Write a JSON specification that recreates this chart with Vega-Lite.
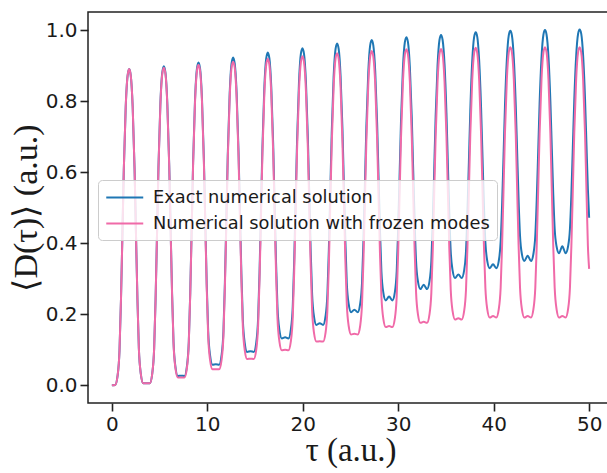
{
"$schema": "https://vega.github.io/schema/vega-lite/v6.json",
"width": 525, "height": 391,
"autosize": {"type": "none"},
"padding": {"left": 88, "top": 12, "right": 0, "bottom": 70},
"background": "white",
"config": {
  "view": {"stroke": "#222222", "strokeWidth": 1.5},
  "axis": {"grid": false, "domain": false, "tickSize": 8, "tickWidth": 1.6, "tickColor": "#222222",
    "labelFont": "DejaVu Sans", "labelFontSize": 20, "labelColor": "#1a1a1a", "labelPadding": 3,
    "titleFont": "Liberation Serif", "titleFontSize": 33, "titleFontWeight": "normal", "titleColor": "#1a1a1a"},
  "legend": {"labelFont": "DejaVu Sans", "labelFontSize": 17.8, "labelColor": "#1a1a1a", "labelLimit": 0}
},
"data": {"values": [
{"t":0,"exact":0,"frozen":0},{"t":0.35,"exact":0.001,"frozen":0.001},{"t":0.6,"exact":0.027,"frozen":0.027},{"t":0.8,"exact":0.098,"frozen":0.098},{"t":0.95,"exact":0.236,"frozen":0.236},{"t":1.1,"exact":0.419,"frozen":0.419},{"t":1.25,"exact":0.606,"frozen":0.606},{"t":1.45,"exact":0.784,"frozen":0.784},{"t":1.65,"exact":0.873,"frozen":0.873},{"t":1.815,"exact":0.891,"frozen":0.891},
{"t":1.98,"exact":0.873,"frozen":0.873},{"t":2.18,"exact":0.785,"frozen":0.785},{"t":2.38,"exact":0.608,"frozen":0.608},{"t":2.53,"exact":0.422,"frozen":0.422},{"t":2.68,"exact":0.241,"frozen":0.241},{"t":2.83,"exact":0.103,"frozen":0.103},{"t":3.03,"exact":0.033,"frozen":0.033},{"t":3.28,"exact":0.006,"frozen":0.006},
{"t":3.63,"exact":0.006,"frozen":0.006},{"t":3.98,"exact":0.006,"frozen":0.006},{"t":4.23,"exact":0.033,"frozen":0.033},{"t":4.43,"exact":0.104,"frozen":0.104},{"t":4.58,"exact":0.243,"frozen":0.242},{"t":4.73,"exact":0.426,"frozen":0.424},{"t":4.88,"exact":0.613,"frozen":0.611},{"t":5.08,"exact":0.792,"frozen":0.788},{"t":5.28,"exact":0.881,"frozen":0.877},{"t":5.445,"exact":0.899,"frozen":0.895},
{"t":5.61,"exact":0.882,"frozen":0.878},{"t":5.81,"exact":0.794,"frozen":0.790},{"t":6.01,"exact":0.620,"frozen":0.616},{"t":6.16,"exact":0.436,"frozen":0.432},{"t":6.31,"exact":0.257,"frozen":0.253},{"t":6.46,"exact":0.122,"frozen":0.118},{"t":6.66,"exact":0.052,"frozen":0.048},{"t":6.91,"exact":0.026,"frozen":0.022},
{"t":7.26,"exact":0.027,"frozen":0.022},{"t":7.61,"exact":0.026,"frozen":0.022},{"t":7.86,"exact":0.053,"frozen":0.048},{"t":8.06,"exact":0.123,"frozen":0.119},{"t":8.21,"exact":0.260,"frozen":0.255},{"t":8.36,"exact":0.441,"frozen":0.436},{"t":8.51,"exact":0.627,"frozen":0.621},{"t":8.71,"exact":0.804,"frozen":0.797},{"t":8.91,"exact":0.892,"frozen":0.885},{"t":9.075,"exact":0.910,"frozen":0.903},
{"t":9.24,"exact":0.893,"frozen":0.886},{"t":9.44,"exact":0.808,"frozen":0.800},{"t":9.64,"exact":0.637,"frozen":0.628},{"t":9.79,"exact":0.458,"frozen":0.448},{"t":9.94,"exact":0.284,"frozen":0.272},{"t":10.09,"exact":0.152,"frozen":0.139},{"t":10.29,"exact":0.084,"frozen":0.071},{"t":10.54,"exact":0.058,"frozen":0.045},
{"t":10.89,"exact":0.059,"frozen":0.045},{"t":11.24,"exact":0.058,"frozen":0.045},{"t":11.49,"exact":0.084,"frozen":0.071},{"t":11.69,"exact":0.153,"frozen":0.140},{"t":11.84,"exact":0.287,"frozen":0.275},{"t":11.99,"exact":0.465,"frozen":0.452},{"t":12.14,"exact":0.647,"frozen":0.635},{"t":12.34,"exact":0.820,"frozen":0.808},{"t":12.54,"exact":0.907,"frozen":0.895},{"t":12.705,"exact":0.924,"frozen":0.912},
{"t":12.87,"exact":0.907,"frozen":0.895},{"t":13.07,"exact":0.824,"frozen":0.811},{"t":13.27,"exact":0.658,"frozen":0.644},{"t":13.42,"exact":0.484,"frozen":0.468},{"t":13.57,"exact":0.314,"frozen":0.296},{"t":13.72,"exact":0.185,"frozen":0.166},{"t":13.92,"exact":0.119,"frozen":0.099},{"t":14.17,"exact":0.094,"frozen":0.074},
{"t":14.52,"exact":0.096,"frozen":0.075},{"t":14.87,"exact":0.094,"frozen":0.074},{"t":15.12,"exact":0.119,"frozen":0.099},{"t":15.32,"exact":0.187,"frozen":0.167},{"t":15.47,"exact":0.318,"frozen":0.298},{"t":15.62,"exact":0.491,"frozen":0.472},{"t":15.77,"exact":0.668,"frozen":0.649},{"t":15.97,"exact":0.837,"frozen":0.818},{"t":16.17,"exact":0.921,"frozen":0.903},{"t":16.335,"exact":0.938,"frozen":0.920},
{"t":16.5,"exact":0.922,"frozen":0.904},{"t":16.7,"exact":0.841,"frozen":0.821},{"t":16.9,"exact":0.680,"frozen":0.657},{"t":17.05,"exact":0.511,"frozen":0.485},{"t":17.2,"exact":0.346,"frozen":0.317},{"t":17.35,"exact":0.221,"frozen":0.189},{"t":17.55,"exact":0.156,"frozen":0.124},{"t":17.8,"exact":0.132,"frozen":0.099},
{"t":18.15,"exact":0.135,"frozen":0.100},{"t":18.5,"exact":0.132,"frozen":0.099},{"t":18.75,"exact":0.157,"frozen":0.124},{"t":18.95,"exact":0.222,"frozen":0.190},{"t":19.1,"exact":0.349,"frozen":0.318},{"t":19.25,"exact":0.516,"frozen":0.488},{"t":19.4,"exact":0.688,"frozen":0.662},{"t":19.6,"exact":0.852,"frozen":0.828},{"t":19.8,"exact":0.934,"frozen":0.910},{"t":19.965,"exact":0.950,"frozen":0.927},
{"t":20.13,"exact":0.934,"frozen":0.911},{"t":20.33,"exact":0.856,"frozen":0.831},{"t":20.53,"exact":0.700,"frozen":0.670},{"t":20.68,"exact":0.537,"frozen":0.501},{"t":20.83,"exact":0.377,"frozen":0.336},{"t":20.98,"exact":0.256,"frozen":0.211},{"t":21.18,"exact":0.193,"frozen":0.147},{"t":21.43,"exact":0.170,"frozen":0.123},
{"t":21.78,"exact":0.175,"frozen":0.124},{"t":22.13,"exact":0.170,"frozen":0.123},{"t":22.38,"exact":0.194,"frozen":0.147},{"t":22.58,"exact":0.257,"frozen":0.212},{"t":22.73,"exact":0.380,"frozen":0.338},{"t":22.88,"exact":0.543,"frozen":0.505},{"t":23.03,"exact":0.709,"frozen":0.676},{"t":23.23,"exact":0.868,"frozen":0.838},{"t":23.43,"exact":0.947,"frozen":0.920},{"t":23.595,"exact":0.963,"frozen":0.936},
{"t":23.76,"exact":0.948,"frozen":0.920},{"t":23.96,"exact":0.872,"frozen":0.841},{"t":24.16,"exact":0.721,"frozen":0.682},{"t":24.31,"exact":0.562,"frozen":0.516},{"t":24.46,"exact":0.407,"frozen":0.353},{"t":24.61,"exact":0.289,"frozen":0.230},{"t":24.81,"exact":0.229,"frozen":0.167},{"t":25.06,"exact":0.206,"frozen":0.143},
{"t":25.41,"exact":0.213,"frozen":0.145},{"t":25.76,"exact":0.206,"frozen":0.143},{"t":26.01,"exact":0.229,"frozen":0.167},{"t":26.21,"exact":0.290,"frozen":0.231},{"t":26.36,"exact":0.409,"frozen":0.355},{"t":26.51,"exact":0.566,"frozen":0.519},{"t":26.66,"exact":0.728,"frozen":0.686},{"t":26.86,"exact":0.881,"frozen":0.846},{"t":27.06,"exact":0.958,"frozen":0.926},{"t":27.225,"exact":0.973,"frozen":0.942},
{"t":27.39,"exact":0.958,"frozen":0.926},{"t":27.59,"exact":0.885,"frozen":0.849},{"t":27.79,"exact":0.738,"frozen":0.693},{"t":27.94,"exact":0.584,"frozen":0.530},{"t":28.09,"exact":0.434,"frozen":0.370},{"t":28.24,"exact":0.320,"frozen":0.250},{"t":28.44,"exact":0.261,"frozen":0.187},{"t":28.69,"exact":0.239,"frozen":0.164},
{"t":29.04,"exact":0.250,"frozen":0.167},{"t":29.39,"exact":0.239,"frozen":0.164},{"t":29.64,"exact":0.261,"frozen":0.187},{"t":29.84,"exact":0.321,"frozen":0.250},{"t":29.99,"exact":0.436,"frozen":0.371},{"t":30.14,"exact":0.588,"frozen":0.532},{"t":30.29,"exact":0.744,"frozen":0.696},{"t":30.49,"exact":0.892,"frozen":0.853},{"t":30.69,"exact":0.966,"frozen":0.931},{"t":30.855,"exact":0.981,"frozen":0.947},
{"t":31.02,"exact":0.967,"frozen":0.932},{"t":31.22,"exact":0.896,"frozen":0.854},{"t":31.42,"exact":0.754,"frozen":0.700},{"t":31.57,"exact":0.605,"frozen":0.538},{"t":31.72,"exact":0.459,"frozen":0.380},{"t":31.87,"exact":0.349,"frozen":0.261},{"t":32.07,"exact":0.292,"frozen":0.199},{"t":32.32,"exact":0.271,"frozen":0.176},
{"t":32.67,"exact":0.283,"frozen":0.179},{"t":33.02,"exact":0.271,"frozen":0.176},{"t":33.27,"exact":0.292,"frozen":0.199},{"t":33.47,"exact":0.350,"frozen":0.261},{"t":33.62,"exact":0.461,"frozen":0.381},{"t":33.77,"exact":0.608,"frozen":0.539},{"t":33.92,"exact":0.758,"frozen":0.701},{"t":34.12,"exact":0.901,"frozen":0.855},{"t":34.32,"exact":0.973,"frozen":0.933},{"t":34.485,"exact":0.987,"frozen":0.948},
{"t":34.65,"exact":0.973,"frozen":0.933},{"t":34.85,"exact":0.905,"frozen":0.856},{"t":35.05,"exact":0.768,"frozen":0.704},{"t":35.2,"exact":0.624,"frozen":0.544},{"t":35.35,"exact":0.484,"frozen":0.387},{"t":35.5,"exact":0.377,"frozen":0.269},{"t":35.7,"exact":0.323,"frozen":0.208},{"t":35.95,"exact":0.302,"frozen":0.185},
{"t":36.3,"exact":0.312,"frozen":0.189},{"t":36.65,"exact":0.302,"frozen":0.185},{"t":36.9,"exact":0.323,"frozen":0.208},{"t":37.1,"exact":0.378,"frozen":0.269},{"t":37.25,"exact":0.486,"frozen":0.388},{"t":37.4,"exact":0.628,"frozen":0.545},{"t":37.55,"exact":0.773,"frozen":0.706},{"t":37.75,"exact":0.912,"frozen":0.859},{"t":37.95,"exact":0.981,"frozen":0.936},{"t":38.115,"exact":0.995,"frozen":0.951},
{"t":38.28,"exact":0.982,"frozen":0.936},{"t":38.48,"exact":0.915,"frozen":0.860},{"t":38.68,"exact":0.782,"frozen":0.708},{"t":38.83,"exact":0.643,"frozen":0.548},{"t":38.98,"exact":0.506,"frozen":0.392},{"t":39.13,"exact":0.403,"frozen":0.275},{"t":39.33,"exact":0.350,"frozen":0.214},{"t":39.58,"exact":0.330,"frozen":0.191},
{"t":39.93,"exact":0.341,"frozen":0.195},{"t":40.28,"exact":0.330,"frozen":0.191},{"t":40.53,"exact":0.350,"frozen":0.214},{"t":40.73,"exact":0.404,"frozen":0.275},{"t":40.88,"exact":0.507,"frozen":0.393},{"t":41.03,"exact":0.644,"frozen":0.549},{"t":41.18,"exact":0.785,"frozen":0.709},{"t":41.38,"exact":0.919,"frozen":0.862},{"t":41.58,"exact":0.986,"frozen":0.938},{"t":41.745,"exact":0.999,"frozen":0.953},
{"t":41.91,"exact":0.986,"frozen":0.938},{"t":42.11,"exact":0.921,"frozen":0.862},{"t":42.31,"exact":0.791,"frozen":0.709},{"t":42.46,"exact":0.655,"frozen":0.549},{"t":42.61,"exact":0.522,"frozen":0.393},{"t":42.76,"exact":0.421,"frozen":0.275},{"t":42.96,"exact":0.369,"frozen":0.214},{"t":43.21,"exact":0.350,"frozen":0.191},
{"t":43.56,"exact":0.365,"frozen":0.195},{"t":43.91,"exact":0.350,"frozen":0.191},{"t":44.16,"exact":0.370,"frozen":0.214},{"t":44.36,"exact":0.422,"frozen":0.275},{"t":44.51,"exact":0.523,"frozen":0.393},{"t":44.66,"exact":0.656,"frozen":0.549},{"t":44.81,"exact":0.793,"frozen":0.709},{"t":45.01,"exact":0.923,"frozen":0.862},{"t":45.21,"exact":0.988,"frozen":0.938},{"t":45.375,"exact":1.001,"frozen":0.953},
{"t":45.54,"exact":0.988,"frozen":0.938},{"t":45.74,"exact":0.926,"frozen":0.862},{"t":45.94,"exact":0.800,"frozen":0.709},{"t":46.09,"exact":0.668,"frozen":0.549},{"t":46.24,"exact":0.539,"frozen":0.393},{"t":46.39,"exact":0.441,"frozen":0.275},{"t":46.59,"exact":0.391,"frozen":0.214},{"t":46.84,"exact":0.372,"frozen":0.191},
{"t":47.19,"exact":0.392,"frozen":0.195},{"t":47.54,"exact":0.372,"frozen":0.191},{"t":47.79,"exact":0.391,"frozen":0.214},{"t":47.99,"exact":0.441,"frozen":0.275},{"t":48.14,"exact":0.539,"frozen":0.393},{"t":48.29,"exact":0.669,"frozen":0.549},{"t":48.44,"exact":0.801,"frozen":0.709},{"t":48.64,"exact":0.927,"frozen":0.862},{"t":48.84,"exact":0.990,"frozen":0.938},{"t":49.005,"exact":1.003,"frozen":0.953},
{"t":49.17,"exact":0.991,"frozen":0.938},{"t":49.37,"exact":0.929,"frozen":0.862},{"t":49.57,"exact":0.807,"frozen":0.709},{"t":49.72,"exact":0.678,"frozen":0.549},{"t":49.87,"exact":0.552,"frozen":0.393},{"t":50.0,"exact":0.472,"frozen":0.328}
]},
"transform": [{"fold": ["exact", "frozen"], "as": ["series", "v"]}],
"mark": {"type": "line", "interpolate": "monotone", "strokeWidth": 2, "clip": true},
"encoding": {
  "x": {"field": "t", "type": "quantitative", "scale": {"domain": [-2.5, 52.5], "nice": false, "zero": false},
        "axis": {"values": [0, 10, 20, 30, 40, 50], "format": "d", "title": "τ (a.u.)", "titlePadding": 0}},
  "y": {"field": "v", "type": "quantitative", "scale": {"domain": [-0.05, 1.052], "nice": false, "zero": false},
        "axis": {"values": [0, 0.2, 0.4, 0.6, 0.8, 1.0], "format": ".1f", "title": "⟨D(τ)⟩ (a.u.)", "titlePadding": 2, "titleFontSize": 34}},
  "color": {"field": "series", "type": "nominal",
    "scale": {"domain": ["exact", "frozen"], "range": ["#1f77b4", "#f06aa8"]},
    "legend": {"title": null, "orient": "none", "legendX": 10, "legendY": 168,
      "labelExpr": "datum.label == 'exact' ? 'Exact numerical solution' : 'Numerical solution with frozen modes'",
      "symbolType": "M-1,0H3", "symbolSize": 342, "symbolStrokeWidth": 2.2,
      "fillColor": "rgba(255,255,255,0.8)", "strokeColor": "#cccccc", "cornerRadius": 4, "padding": 7,
      "rowPadding": 6, "labelOffset": 27}}
}
}
